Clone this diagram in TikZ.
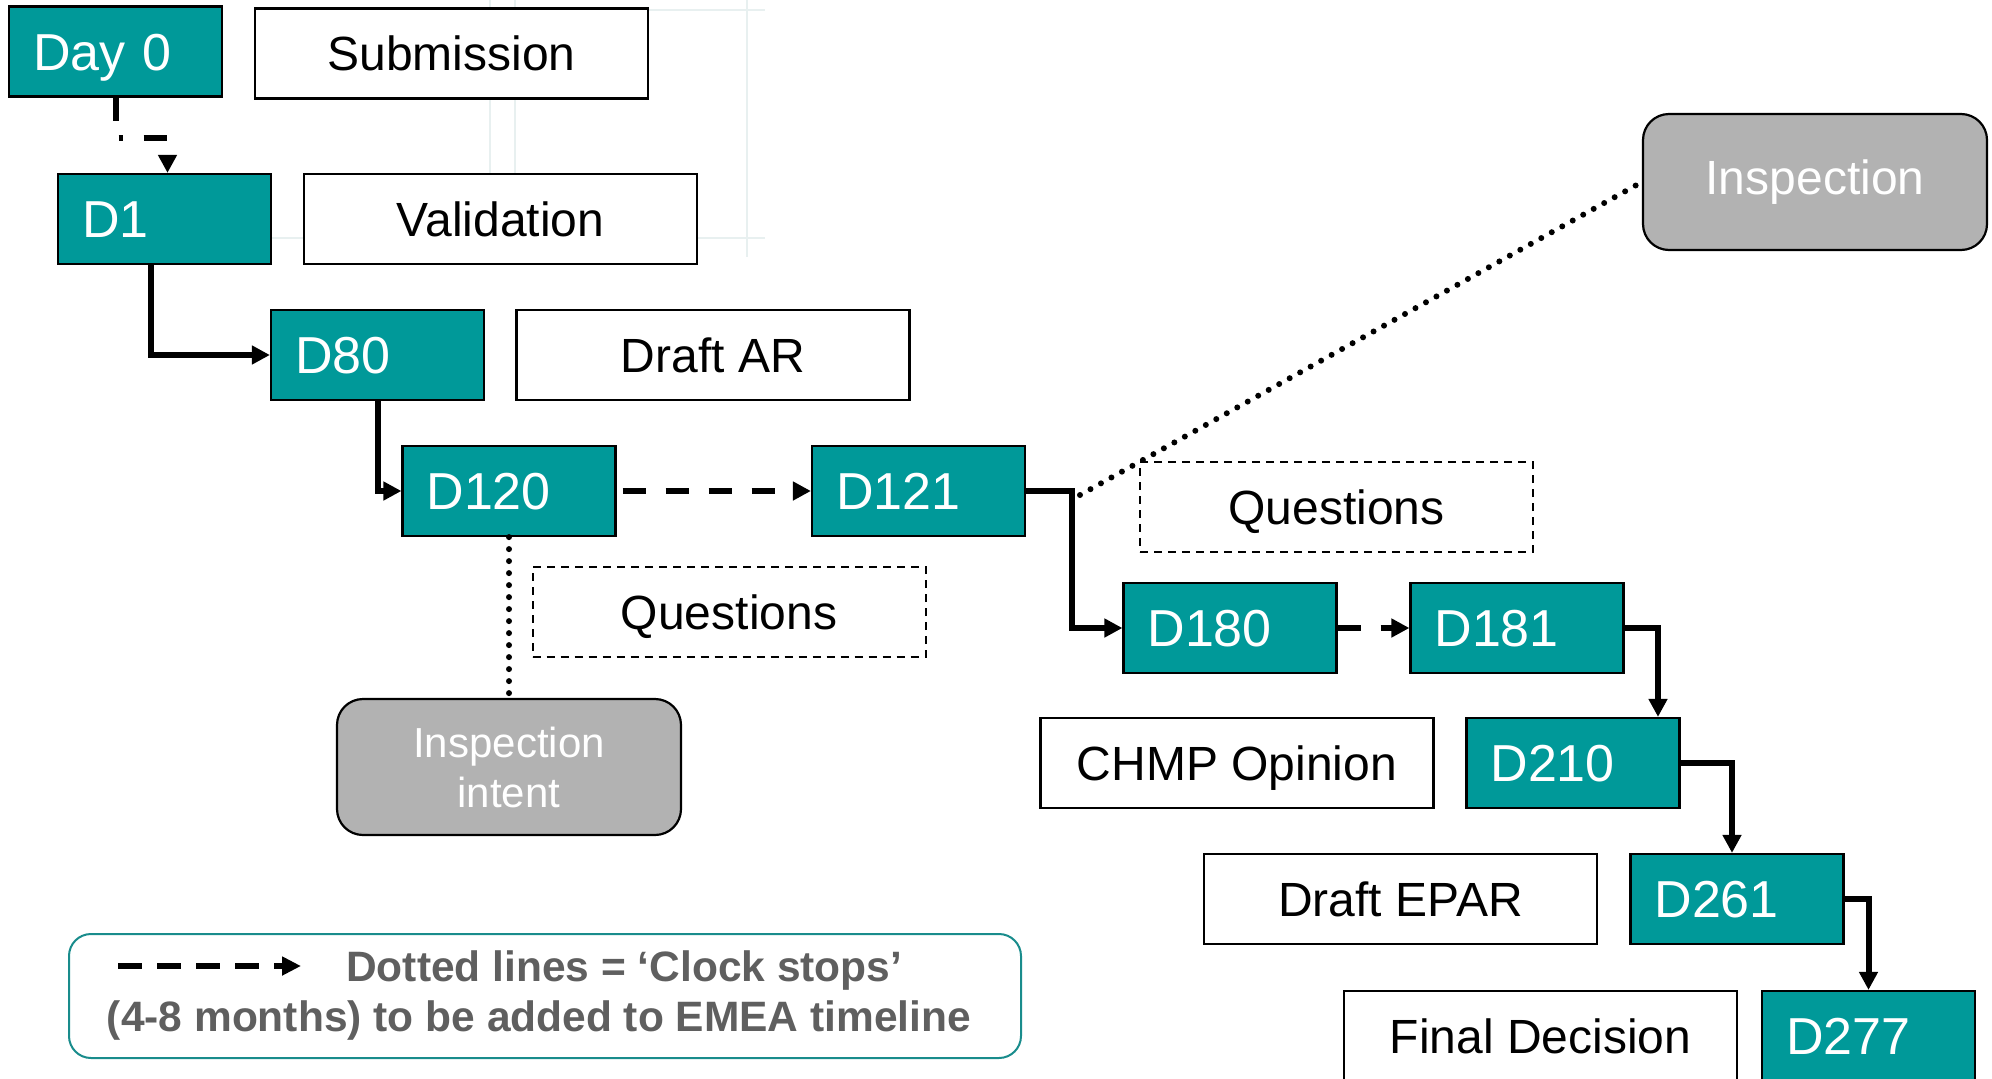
\documentclass[tikz,border=0pt]{standalone}
\usepackage{fontspec}
\setmainfont{Liberation Sans}
\usetikzlibrary{arrows.meta}
\definecolor{emateal}{RGB}{0,153,153}
\definecolor{boxgray}{RGB}{178,178,178}
\definecolor{legendgray}{RGB}{95,95,95}
\definecolor{legendedge}{RGB}{25,140,140}
\definecolor{gridline}{RGB}{232,240,240}
\begin{document}
\begin{tikzpicture}[x=1pt,y=-1pt,
  daybox/.style={draw=black, line width=2.2pt, fill=emateal, text=white,
    font=\fontsize{52}{60}\selectfont, text width=165pt, inner xsep=24pt,
    inner ysep=0pt, align=left, minimum height=90pt, text height=37pt, text depth=0pt},
  taskbox/.style={draw=black, line width=2.2pt, fill=white,
    font=\fontsize{48}{56}\selectfont, minimum width=393pt, minimum height=90pt,
    text height=34pt, text depth=0pt, inner sep=0pt},
  qbox/.style={taskbox, line width=2pt, dash pattern=on 8pt off 6pt},
  inspbox/.style={draw=black, line width=2.2pt, fill=boxgray, text=white,
    rounded corners=26pt, minimum width=344pt, minimum height=136pt, align=center},
  flow/.style={line width=6pt, -{Triangle[length=18pt,width=18pt]}},
  clockstop/.style={flow, dash pattern=on 23pt off 20pt},
  link/.style={line width=6pt, line cap=round, dash pattern=on 0pt off 12pt},
]
\useasboundingbox (0,0) rectangle (1992,1079);
\clip (0,0) rectangle (1992,1079);

% faint table rules behind the first rows
\begin{scope}[gridline, line width=1.2pt]
  \draw (490,0) -- (490,257);
  \draw (515,0) -- (515,257);
  \draw (747,0) -- (747,257);
  \draw (462,10) -- (765,10);
  \draw (270,238) -- (765,238);
\end{scope}

% milestones and their activities
\node[daybox] (day0) at (115.5,51.5) {Day 0};
\node[taskbox] (sub) at (451.5,53.5) {Submission};
\node[daybox] (d1) at (164.5,219) {D1};
\node[taskbox] (val) at (500.5,219) {Validation};
\node[daybox] (d80) at (377.5,355) {D80};
\node[taskbox] (dar) at (713,355) {Draft AR};
\node[daybox] (d120) at (509,491) {D120};
\node[daybox] (d121) at (918.5,491) {D121};
\node[qbox] (q1) at (729,612) {Questions};
\node[qbox] (q2) at (1336.5,507) {Questions};
\node[daybox] (d180) at (1230,628) {D180};
\node[daybox] (d181) at (1517,628) {D181};
\node[taskbox] (chmp) at (1237,763) {CHMP Opinion};
\node[daybox] (d210) at (1573,763) {D210};
\node[taskbox] (epar) at (1400.5,899) {Draft EPAR};
\node[daybox] (d261) at (1737,899) {D261};
\node[taskbox] (fd) at (1540.5,1036) {Final Decision};
\node[daybox] (d277) at (1868.5,1036) {D277};

% inspections
\node[inspbox, font=\fontsize{48}{56}\selectfont] (insp) at (1815,182) {Inspection};
\node[inspbox, font=\fontsize{42}{50}\selectfont] (intent) at (509,767) {Inspection\\intent};

% connectors
\coordinate (c121) at (1072,491);
\draw[flow, dash pattern=on 23pt off 20pt on 4pt off 21pt]
  (day0.south) -- ++(0,40) -| ([xshift=3pt]d1.north);
\draw[flow] ([xshift=-13.5pt]d1.south) |- (d80.west);
\draw[flow] (d80.south) |- (d120.west);
\draw[clockstop, shorten <=6pt] (d120.east) -- (d121.west);
\draw[flow] (d121.east) -- (c121) |- (d180.west);
\draw[clockstop] (d180.east) -- (d181.west);
\draw[flow] (d181.east) -| ([xshift=85pt]d210.north);
\draw[flow] (d210.east) -| ([xshift=-5pt]d261.north);
\draw[flow] (d261.east) -| (d277.north);
\draw[link] (d120.south) -- (intent.north);
\draw[link] ([shift={(8pt,-4pt)}]c121) -- (insp.west);

% legend
\node[draw=legendedge, line width=2pt, rounded corners=22pt,
  minimum width=952pt, minimum height=124pt] (legend) at (545,996) {};
\coordinate (legA) at (118,966);
\coordinate (legB) at (301,966);
\draw[line width=6pt, dash pattern=on 24pt off 15pt,
  -{Triangle[length=19pt,width=18pt]}] (legA) -- (legB);
\node[anchor=base west, inner sep=0pt, text=legendgray,
  font=\bfseries\fontsize{42.5}{50}\selectfont] (leg1) at (346,981)
  {Dotted lines = ‘Clock stops’};
\node[anchor=base, inner sep=0pt, text=legendgray,
  font=\bfseries\fontsize{42.5}{50}\selectfont] (leg2) at (539,1031)
  {(4-8 months) to be added to EMEA timeline};
\end{tikzpicture}
\end{document}
